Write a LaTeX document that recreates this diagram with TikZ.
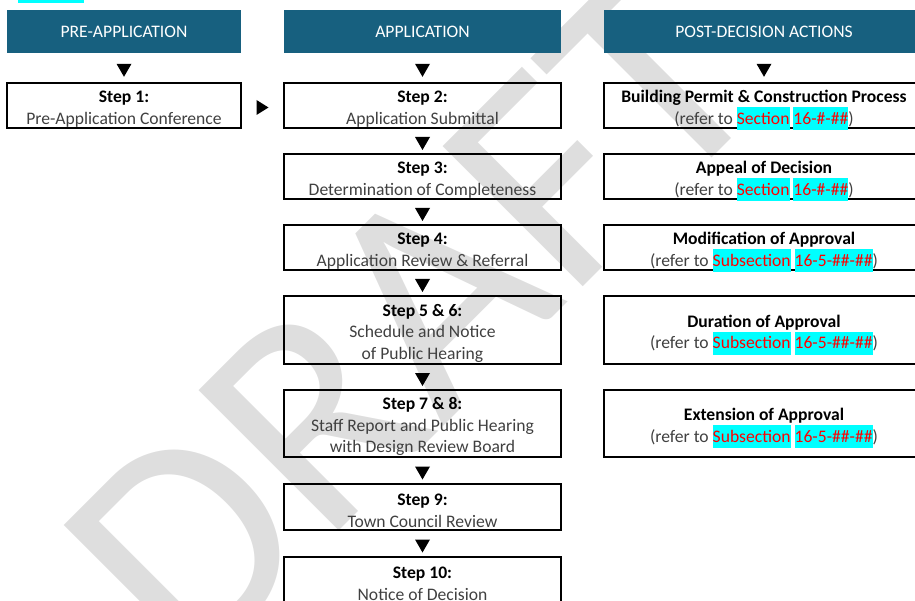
\documentclass[tikz,border=0pt]{standalone}
\usepackage{fontspec}
\setmainfont{Carlito}
\usetikzlibrary{calc}
\definecolor{headblue}{HTML}{17607F}
\definecolor{bodygray}{HTML}{404040}
\definecolor{markgray}{HTML}{DEDEDE}
\definecolor{hlcyan}{RGB}{0,255,255}
\definecolor{refred}{RGB}{255,0,0}
\newcommand\hl[1]{\smash{\setlength{\fboxsep}{0pt}\colorbox{hlcyan}{\rule[-6pt]{0pt}{23pt}\textcolor{refred}{#1}}}}
\newcommand\steptitle[1]{{\color{black}\bfseries\rule{0pt}{18.7pt}#1}}
\def\downtri#1{\fill ($#1+(-7.5,-4)$) -- ++(15,0) -- ++(-7.5,13) -- cycle;}
\def\righttri#1{\fill ($#1+(-6,-5.5)$) -- ++(0,15) -- ++(12,-7.5) -- cycle;}

\begin{document}
\begin{tikzpicture}[x=1pt,y=-1pt,
  every node/.style={font=\fontsize{17.6}{21.5}\selectfont, inner sep=0pt, align=center},
  head/.style={fill=headblue, text=white, minimum height=43},
  stepbox/.style={draw, line width=1.2pt, text=bodygray},
  ]
			\useasboundingbox (0,0) rectangle (915,601);
			
			%%%%% watermark %%%%%
			\node[rotate=45, anchor=base west, text=markgray, font=\fontsize{309}{309}\selectfont] (draft) at (189,681) {DRAFT};
			\fill[hlcyan] (18,0) rectangle (84,3.5);
			
			%%%%% headers %%%%%
			\node[head, minimum width=234] (h1) at (124,31.5) {PRE-APPLICATION};
			\node[head, minimum width=277] (h2) at (422.5,31.5) {APPLICATION};
			\node[head, minimum width=320] (h3) at (764,31.5) {POST-DECISION ACTIONS};
			
			%%%%% pre-application %%%%%
			\node[stepbox, minimum width=234, minimum height=45] (s1) at (124,105.5) {\steptitle{Step 1:}\\Pre-Application Conference};
			
			%%%%% application %%%%%
			\node[stepbox, minimum width=277, minimum height=45] (s2) at (422.5,105.5) {\steptitle{Step 2:}\\Application Submittal};
			\node[stepbox, minimum width=277, minimum height=45] (s3) at (422.5,176.5) {\steptitle{Step 3:}\\Determination of Completeness};
			\node[stepbox, minimum width=277, minimum height=45] (s4) at (422.5,247.5) {\steptitle{Step 4:}\\Application Review \& Referral};
			\node[stepbox, minimum width=277, minimum height=68] (s56) at (422.5,330) {\steptitle{Step 5 \& 6:}\\Schedule and Notice\\of Public Hearing};
			\node[stepbox, minimum width=277, minimum height=67] (s78) at (422.5,423.5) {\steptitle{Step 7 \& 8:}\\Staff Report and Public Hearing\\with Design Review Board};
			\node[stepbox, minimum width=277, minimum height=46] (s9) at (422.5,507) {\steptitle{Step 9:}\\Town Council Review};
			\node[stepbox, minimum width=277, minimum height=46] (s10) at (422.5,580) {\steptitle{Step 10:}\\Notice of Decision};
			
			%%%%% post-decision %%%%%
			\node[stepbox, minimum width=320, minimum height=45] (p1) at (764,105.5) {\steptitle{Building Permit \& Construction Process}\\(refer to \hl{Section} \hl{16-\#-\#\#})};
			\node[stepbox, minimum width=320, minimum height=45] (p2) at (764,176.5) {\steptitle{Appeal of Decision}\\(refer to \hl{Section} \hl{16-\#-\#\#})};
			\node[stepbox, minimum width=320, minimum height=45] (p3) at (764,247.5) {\steptitle{Modification of Approval}\\(refer to \hl{Subsection} \hl{16-5-\#\#-\#\#})};
			\node[stepbox, minimum width=320, minimum height=68] (p4) at (764,330) {\steptitle{Duration of Approval}\\(refer to \hl{Subsection} \hl{16-5-\#\#-\#\#})};
			\node[stepbox, minimum width=320, minimum height=67] (p5) at (764,423.5) {\steptitle{Extension of Approval}\\(refer to \hl{Subsection} \hl{16-5-\#\#-\#\#})};
			
			%%%%% arrows %%%%%
			\downtri{(h1.south)!0.5!(s1.north)}
			\downtri{(h2.south)!0.5!(s2.north)}
			\downtri{(h3.south)!0.5!(p1.north)}
			\righttri{(s1.east)!0.5!(s2.west)}
			\downtri{(s2.south)!0.5!(s3.north)}
			\downtri{(s3.south)!0.5!(s4.north)}
			\downtri{(s4.south)!0.5!(s56.north)}
			\downtri{(s56.south)!0.5!(s78.north)}
			\downtri{(s78.south)!0.5!(s9.north)}
			\downtri{(s9.south)!0.5!(s10.north)}
\end{tikzpicture}
\end{document}
